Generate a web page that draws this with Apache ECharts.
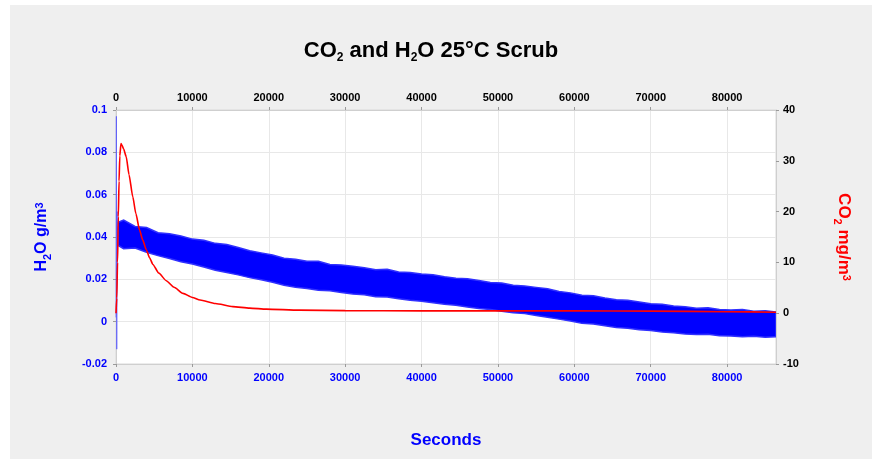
<!DOCTYPE html>
<html><head><meta charset="utf-8">
<script src="https://cdn.jsdelivr.net/npm/echarts@6/dist/echarts.min.js"></script>
<style>
html,body{margin:0;padding:0;background:#fff;}
#panel{position:absolute;left:10px;top:5px;width:862px;height:454px;background:#efefef;}
#chart{position:absolute;left:0;top:0;width:880px;height:463px;}
</style></head><body><div id="panel"></div><div id="chart"></div>
<script>
// ---- data ----
const co2Time   = [0,100,200,300,400,500,650,800,1000,1340,1700,2200,2600,3080,3500,3960,4400,4830,5600,6580,7600,8770,10000,11000,13000,15300,17500,19700,24000,30000,40000,50000,60000,70000,80000,86400];
const co2Values = [0,3,10,19,26,31,33.4,33,32.3,30.8,27.3,22.9,19.6,16.4,14.4,12.5,10.9,9.6,7.9,6.4,5.1,3.9,3.1,2.6,1.9,1.3,1.0,0.8,0.6,0.5,0.45,0.45,0.45,0.4,0.3,0.2];

const h2oTime  = [300,1000,2500,4000,5500,7000,8500,10000,11500,13000,14500,16000,17500,19000,20500,22000,23500,25000,26500,28000,29500,31000,32500,34000,35500,37000,38500,40000,41500,43000,44500,46000,47500,49000,50500,52000,53500,55000,56500,58000,59500,61000,62500,64000,65500,67000,68500,70000,71500,73000,74500,76000,77500,79000,80500,82000,83500,85000,86400];
const h2oUpper = [0.047,0.048,0.045,0.0445,0.042,0.0415,0.0405,0.039,0.0385,0.037,0.0365,0.035,0.0335,0.0325,0.0315,0.030,0.0295,0.0285,0.0285,0.027,0.0268,0.0262,0.0255,0.0245,0.0248,0.0235,0.0232,0.0225,0.0222,0.0212,0.0205,0.0203,0.0195,0.0185,0.0183,0.0172,0.0168,0.0162,0.0155,0.0143,0.0136,0.0125,0.0122,0.0112,0.0104,0.0101,0.0093,0.0085,0.0082,0.0074,0.0071,0.0063,0.0066,0.0058,0.0055,0.0057,0.0049,0.0052,0.0046];
const h2oLower = [0.036,0.0345,0.0348,0.0328,0.0312,0.0298,0.0283,0.0272,0.0258,0.0243,0.0232,0.0221,0.0208,0.0198,0.0186,0.0172,0.0163,0.0157,0.0149,0.0146,0.0138,0.0131,0.0127,0.0118,0.0116,0.0108,0.0101,0.0097,0.0089,0.0082,0.0077,0.0069,0.0062,0.0058,0.0049,0.0042,0.0038,0.0029,0.0021,0.0012,0.0003,-0.0008,-0.0011,-0.0019,-0.0027,-0.0031,-0.0038,-0.0042,-0.0049,-0.0052,-0.0058,-0.0061,-0.0059,-0.0066,-0.0068,-0.0071,-0.0069,-0.0074,-0.0071];

const h2oSpikeTime   = [0,50,100,150,200,250,300];
const h2oSpikeValues = [0.002,0.097,-0.013,0.052,0.030,0.045,0.041];

const xMin = 0, xMax = 86400, xInterval = 10000;
const h2oMin = -0.02, h2oMax = 0.1, h2oInterval = 0.02;
const co2Min = -10, co2Max = 40, co2Interval = 10;

// ---- chart ----
const FONT = 'Liberation Sans, Arial, sans-serif';
const chart = echarts.init(document.getElementById('chart'), null, {renderer: 'canvas'});

const axisLineStyle = {show: true, onZero: false, lineStyle: {color: '#cfcfcf', width: 1}};
const tickStyle = {show: true, inside: false, length: 3, lineStyle: {color: '#9a9a9a'}};
const plain = v => String(v);

function nameRich(color, size) {
  return {
    a: {fontFamily: FONT, fontSize: size, fontWeight: 'bold', color: color, lineHeight: size + 3, verticalAlign: 'top'},
    s: {fontFamily: FONT, fontSize: 11, fontWeight: 'bold', color: color, lineHeight: 11, padding: [13, 0, 0, 0], verticalAlign: 'bottom'},
    p: {fontFamily: FONT, fontSize: 11, fontWeight: 'bold', color: color, lineHeight: 11, verticalAlign: 'top'}
  };
}

const h2oBand = h2oTime.map((t, i) => [t, h2oUpper[i], h2oLower[i]]);

const option = {
  backgroundColor: 'transparent',
  animation: false,
  title: {
    text: '{a|CO}{s|2}{a| and H}{s|2}{a|O 25°C Scrub}',
    left: 426, top: 35, textAlign: 'center',
    textStyle: {
      rich: {
        a: {fontFamily: FONT, fontSize: 22, fontWeight: 'bold', color: '#000', lineHeight: 24, verticalAlign: 'top'},
        s: {fontFamily: FONT, fontSize: 12, fontWeight: 'bold', color: '#000', lineHeight: 12, padding: [18, 0, 0, 0], verticalAlign: 'bottom'}
      }
    }
  },
  grid: {left: 116, right: 104, top: 110, bottom: 99, show: true, backgroundColor: '#ffffff', borderColor: '#d8d8d8', borderWidth: 1, containLabel: false, outerBoundsMode: 'none'},
  xAxis: [
    {
      type: 'value', position: 'bottom', min: xMin, max: xMax, interval: xInterval,
      name: 'Seconds', nameLocation: 'middle', nameGap: 68,
      nameTextStyle: {fontFamily: FONT, fontSize: 17, fontWeight: 'bold', color: '#0000ff'},
      axisLine: axisLineStyle, axisTick: tickStyle,
      axisLabel: {color: '#0000ff', fontFamily: FONT, fontSize: 11, fontWeight: 'bold', margin: 8, showMaxLabel: false, formatter: plain},
      splitLine: {show: true, lineStyle: {color: '#e8e8e8'}}
    },
    {
      type: 'value', position: 'top', min: xMin, max: xMax, interval: xInterval,
      axisLine: axisLineStyle, axisTick: tickStyle,
      axisLabel: {color: '#000000', fontFamily: FONT, fontSize: 11, fontWeight: 'bold', margin: 7, showMaxLabel: false, formatter: plain},
      splitLine: {show: false}
    }
  ],
  yAxis: [
    {
      type: 'value', position: 'left', min: h2oMin, max: h2oMax, interval: h2oInterval,
      name: '{a|H}{s|2}{a|O g/m}{p|3}', nameLocation: 'middle', nameGap: 63, nameRotate: 90,
      nameTextStyle: {rich: nameRich('#0000ff', 16)},
      axisLine: axisLineStyle, axisTick: tickStyle,
      axisLabel: {color: '#0000ff', fontFamily: FONT, fontSize: 11, fontWeight: 'bold', margin: 9},
      splitLine: {show: true, lineStyle: {color: '#e8e8e8'}}
    },
    {
      type: 'value', position: 'right', min: co2Min, max: co2Max, interval: co2Interval,
      name: '{a|CO}{s|2}{a| mg/m}{p|3}', nameLocation: 'middle', nameGap: 56, nameRotate: -90,
      nameTextStyle: {rich: nameRich('#ff0000', 17)},
      axisLine: axisLineStyle, axisTick: tickStyle,
      axisLabel: {color: '#000000', fontFamily: FONT, fontSize: 11, fontWeight: 'bold', margin: 7},
      splitLine: {show: false}
    }
  ],
  series: [
    {
      name: 'H2O band', type: 'custom', xAxisIndex: 0, yAxisIndex: 0, z: 2, clip: true,
      data: h2oBand,
      encode: {x: 0, y: [1, 2]},
      renderItem: function (params, api) {
        if (params.dataIndexInside !== 0) return null;
        const top = [], bot = [];
        for (let i = 0; i < h2oBand.length; i++) {
          top.push(api.coord([h2oBand[i][0], h2oBand[i][1]]));
          bot.push(api.coord([h2oBand[i][0], h2oBand[i][2]]));
        }
        return {type: 'polygon', shape: {points: top.concat(bot.reverse())}, style: {fill: '#0000ff', stroke: '#3030ff', lineWidth: 1.5}};
      }
    },
    {
      name: 'H2O start', type: 'line', xAxisIndex: 0, yAxisIndex: 0, z: 3,
      data: h2oSpikeTime.map((t, i) => [t, h2oSpikeValues[i]]),
      showSymbol: false, symbol: 'none',
      lineStyle: {color: '#5050ff', width: 1, opacity: 0.7}
    },
    {
      name: 'CO2', type: 'line', xAxisIndex: 0, yAxisIndex: 1, z: 4,
      data: co2Time.map((t, i) => [t, co2Values[i]]),
      showSymbol: false, symbol: 'none', smooth: 0.2, smoothMonotone: 'x',
      lineStyle: {color: '#ff0000', width: 1.6}
    }
  ]
};
chart.setOption(option);
</script></body></html>
